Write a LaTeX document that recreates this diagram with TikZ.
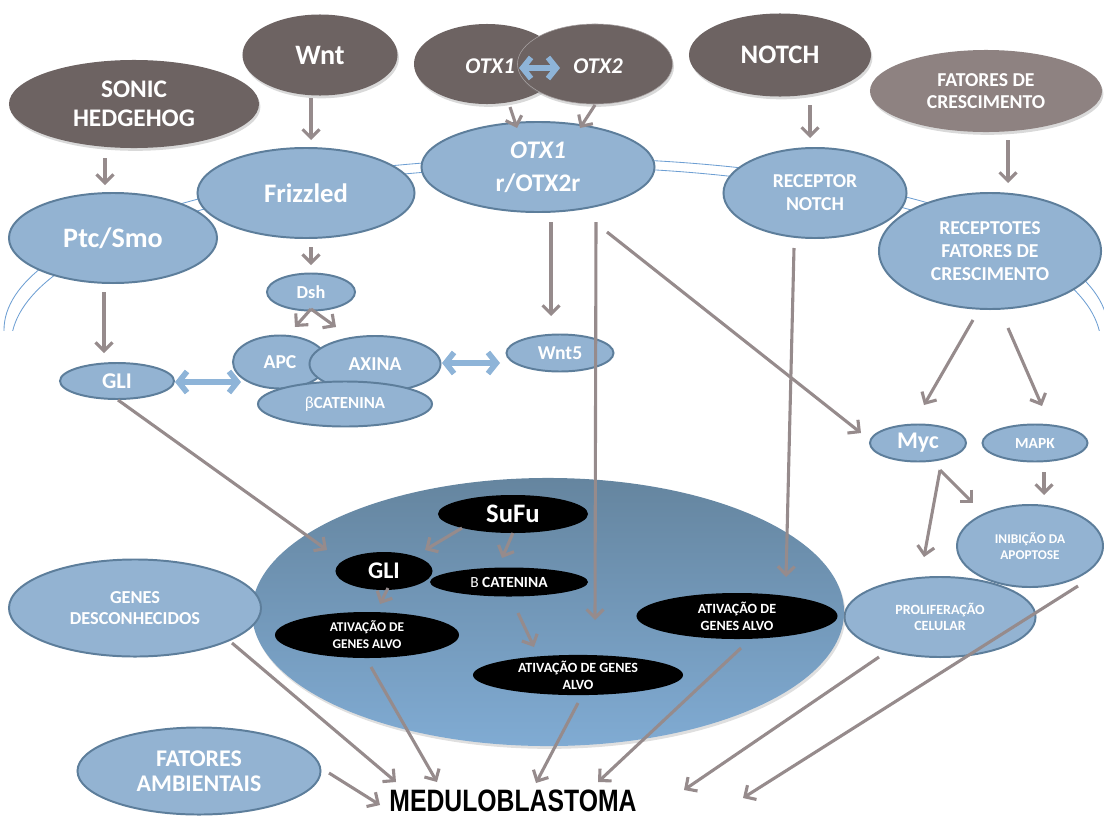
\documentclass[tikz,border=0pt]{standalone}
\usepackage{fontspec}
\setmainfont{Carlito}
\newfontfamily\medfont{Liberation Sans}
\usetikzlibrary{positioning,calc,arrows.meta,shapes.geometric,shadows}
\definecolor{MBrown}{HTML}{6D6362}
\definecolor{MTaupe}{HTML}{8E8281}
\definecolor{BFill}{HTML}{93B3D2}
\definecolor{BEdge}{HTML}{5D7E9B}
\definecolor{NucTop}{HTML}{65859F}
\definecolor{NucBot}{HTML}{80ABD3}
\definecolor{ArrGray}{HTML}{968B8C}
\definecolor{DblBlue}{HTML}{8EB4D8}
\definecolor{MemBlue}{HTML}{6E9FD3}
\newcommand{\fsz}[2]{\fontsize{#1}{#2}\selectfont\bfseries}

\begin{document}
\begin{tikzpicture}[x=0.025cm, y=-0.025cm,
  every node/.style={text=white, align=center, inner sep=0pt},
  sig/.style={ellipse, fill=MBrown, drop shadow={opacity=0.3, shadow xshift=1pt, shadow yshift=-2pt}},
  rec/.style={ellipse, draw=BEdge, fill=BFill, line width=1.4pt},
  gene/.style={ellipse, fill=black},
  arr/.style={draw=ArrGray, line width=2.2pt, -{Straight Barb[length=6pt,width=12pt]}},
  dbl/.style={draw=DblBlue, line width=4pt,
              {Straight Barb[length=6pt,width=15pt]}-{Straight Barb[length=6pt,width=15pt]}},
  memb/.style={draw=MemBlue, line width=0.6pt}]
\useasboundingbox (0,0) rectangle (1104,816);

% membrana
\begin{scope}
  \clip (0,0) rectangle (1104,330);
  \draw[memb] (556,330) ellipse [x radius=552, y radius=172];
  \draw[memb] (556,345) ellipse [x radius=545, y radius=178];
\end{scope}

% sinais
\node[sig, minimum width=6.25cm, minimum height=2.2cm, font=\fsz{18}{21}] (sonic) at (134,104) {SONIC\\HEDGEHOG};
\node[sig, minimum width=3.875cm, minimum height=2.025cm, font=\fsz{20}{24}] (wnt) at (320,55) {Wnt};
\node[sig, minimum width=3.65cm, minimum height=2cm] (otxa) at (487,64) {};
\node[sig, draw=MBrown!60!white, line width=0.4pt, minimum width=3.875cm, minimum height=2cm] (otxb) at (595,64) {};
\node[font=\fsz{16}{19}\itshape] (otxat) at (490,66) {OTX1};
\node[font=\fsz{16}{19}\itshape] (otxbt) at (598,66) {OTX2};
\node[sig, minimum width=4.55cm, minimum height=2.075cm, font=\fsz{19}{23}] (notch) at (780,55) {NOTCH};
\node[sig, fill=MTaupe, minimum width=5.8cm, minimum height=2.05cm, font=\fsz{14}{16}] (fatcres) at (986,91) {FATORES DE\\CRESCIMENTO};

% receptores
\node[rec, minimum width=5.2cm, minimum height=2.25cm, font=\fsz{20}{24}] (ptc) at (113,238) {Ptc/Smo};
\node[rec, minimum width=5.425cm, minimum height=2.25cm, font=\fsz{19}{23}] (frz) at (306,193) {Frizzled};
\node[rec, minimum width=5.825cm, minimum height=2.25cm, font=\fsz{18}{23.5}] (otxr) at (538,167) {\textit{OTX1}\\r/OTX2r};
\node[rec, minimum width=4.575cm, minimum height=2.25cm, font=\fsz{14}{16.5}] (recnotch) at (815,193) {RECEPTOR\\NOTCH};
\node[rec, minimum width=5.55cm, minimum height=2.9cm, font=\fsz{14}{16.5}] (recfat) at (990,251) {RECEPTOTES\\FATORES DE\\CRESCIMENTO};

% citoplasma
\node[rec, minimum width=2.2cm, minimum height=0.925cm, font=\fsz{13}{15}] (dsh) at (311,292) {Dsh};
\node[rec, minimum width=2.35cm, minimum height=1.325cm, font=\fsz{14}{16}] (apc) at (280,362) {APC};
\node[rec, minimum width=3.275cm, minimum height=1.4cm, font=\fsz{14}{16}] (axina) at (375,364) {AXINA};
\node[rec, minimum width=4.35cm, minimum height=1.125cm, font=\fsz{12}{14}] (bcat) at (345,404) {{\mdseries β}CATENINA};
\node[rec, minimum width=2.85cm, minimum height=0.9cm, font=\fsz{16}{18}] (gli) at (117,381) {GLI};
\node[rec, minimum width=2.675cm, minimum height=0.925cm, font=\fsz{14}{16}] (wntfive) at (560,353) {Wnt5};
\node[rec, minimum width=2.4cm, minimum height=0.925cm, font=\fsz{17}{19}] (myc) at (918,443) {Myc};
\node[rec, minimum width=2.625cm, minimum height=0.925cm, font=\fsz{11}{13}] (mapk) at (1035,443) {MAPK};
\node[rec, minimum width=3.65cm, minimum height=2.05cm, font=\fsz{9.5}{11}] (inib) at (1030,546) {INIBIÇÃO DA\\APOPTOSE};
\node[rec, minimum width=4.775cm, minimum height=2cm, font=\fsz{10}{11.5}] (prolif) at (940,617) {PROLIFERAÇÃO\\CELULAR};

% nucleo
\node[ellipse, top color=NucTop, middle color=NucTop, bottom color=NucBot,
      drop shadow={opacity=0.25, shadow xshift=1pt, shadow yshift=-2pt},
      minimum width=14.8cm, minimum height=6.7cm] (nucleo) at (548,612) {};
\node[rec, minimum width=6.3cm, minimum height=2.425cm, font=\fsz{13}{14.5}] (genes) at (135,608) {GENES\\DESCONHECIDOS};
\node[rec, minimum width=6.075cm, minimum height=2.175cm, font=\fsz{17}{18}] (ambient) at (199,771) {FATORES\\AMBIENTAIS};

\node[gene, minimum width=3.75cm, minimum height=0.95cm, font=\fsz{19}{21}] (sufu) at (513,514) {SuFu};
\node[gene, minimum width=2.425cm, minimum height=0.95cm, font=\fsz{17}{19}] (glin) at (384,571) {GLI};
\node[gene, minimum width=3.95cm, minimum height=0.725cm, font=\fsz{11}{13}] (bcatn) at (509,582) {{\mdseries B} CATENINA};
\node[gene, minimum width=4.6cm, minimum height=1.15cm, font=\fsz{9.5}{12}] (atvl) at (367,635) {ATIVAÇÃO DE\\GENES ALVO};
\node[gene, minimum width=5.25cm, minimum height=0.925cm, font=\fsz{10}{12}] (atvm) at (578,675) {ATIVAÇÃO DE GENES\\ALVO};
\node[gene, minimum width=5.025cm, minimum height=1.15cm, font=\fsz{10}{12}] (atvr) at (737,616) {ATIVAÇÃO DE\\GENES ALVO};

\node[text=black, xscale=0.8, font={\medfont\fontsize{22}{24}\selectfont\bfseries}] (med) at (513,801) {MEDULOBLASTOMA};

% setas
\draw[dbl] ([shift={(32,4)}]otxa.center) -- ([shift={(-35,4)}]otxb.center);
\draw[dbl] ([shift={(58,1)}]gli.center) -- ([shift={(-39,20)}]apc.center);
\draw[dbl] ([shift={(67,-1)}]axina.center) -- ([shift={(-60,10)}]wntfive.center);

\draw[arr] ([shift={(-29,54)}]sonic.center) -- ([shift={(-8,-53)}]ptc.center);
\draw[arr] ([shift={(-9,43)}]wnt.center) -- ([shift={(5,-53)}]frz.center);
\draw[arr] ([shift={(23,43)}]otxa.center) -- ([shift={(-21,-39)}]otxr.center);
\draw[arr] ([shift={(0,41)}]otxb.center) -- ([shift={(42,-39)}]otxr.center);
\draw[arr] ([shift={(30,50)}]notch.center) -- ([shift={(-5,-55)}]recnotch.center);
\draw[arr] ([shift={(22,49)}]fatcres.center) -- ([shift={(18,-68)}]recfat.center);
\draw[arr] ([shift={(5,54)}]frz.center) -- ([shift={(0,-27)}]dsh.center);
\draw[arr] ([shift={(-9,54)}]ptc.center) -- ([shift={(-13,-28)}]gli.center);
\draw[arr] ([shift={(0,17)}]dsh.center) -- ([shift={(15,-35)}]apc.center);
\draw[arr] ([shift={(0,17)}]dsh.center) -- ([shift={(-39,-37)}]axina.center);
\draw[arr] ([shift={(13,55)}]otxr.center) -- ([shift={(-9,-37)}]wntfive.center);
\draw[arr] ([shift={(58,55)}]otxr.center) -- ([shift={(17,-55)}]atvm.center);
\draw[arr] ([shift={(69,65)}]otxr.center) -- ([shift={(-57,-10)}]myc.center);
\draw[arr] ([shift={(-21,55)}]recnotch.center) -- ([shift={(49,-39)}]atvr.center);
\draw[arr] ([shift={(-17,69)}]recfat.center) -- ([shift={(6,-38)}]myc.center);
\draw[arr] ([shift={(18,77)}]recfat.center) -- ([shift={(7,-37)}]mapk.center);
\draw[arr] ([shift={(9,29)}]mapk.center) -- ([shift={(14,-51)}]inib.center);
\draw[arr] ([shift={(22,27)}]myc.center) -- ([shift={(-57,-43)}]inib.center);
\draw[arr] ([shift={(22,27)}]myc.center) -- ([shift={(-16,-60)}]prolif.center);
\draw[arr] ([shift={(1,19)}]gli.center) -- ([shift={(-57,-21)}]glin.center);
\draw[arr] ([shift={(-51,14)}]sufu.center) -- ([shift={(41,-21)}]glin.center);
\draw[arr] ([shift={(0,19)}]sufu.center) -- ([shift={(-7,-24)}]bcatn.center);
\draw[arr] ([shift={(4,17)}]glin.center) -- ([shift={(13,-31)}]atvl.center);
\draw[arr] ([shift={(9,31)}]bcatn.center) -- ([shift={(-44,-28)}]atvm.center);

\draw[arr] ([shift={(4,32)}]atvl.center) -- ([shift={(-76,-19)}]med.center);
\draw[arr] ([shift={(97,35)}]genes.center) -- ([shift={(-117,-19)}]med.center);
\draw[arr] ([shift={(130,2)}]ambient.center) -- ([shift={(-133,4)}]med.center);
\draw[arr] ([shift={(0,28)}]atvm.center) -- ([shift={(23,-18)}]med.center);
\draw[arr] ([shift={(4,32)}]atvr.center) -- ([shift={(85,-19)}]med.center);
\draw[arr] ([shift={(-61,40)}]prolif.center) -- ([shift={(171,-11)}]med.center);
\draw[arr] ([shift={(48,40)}]inib.center) -- ([shift={(230,-3)}]med.center);
\end{tikzpicture}
\end{document}
